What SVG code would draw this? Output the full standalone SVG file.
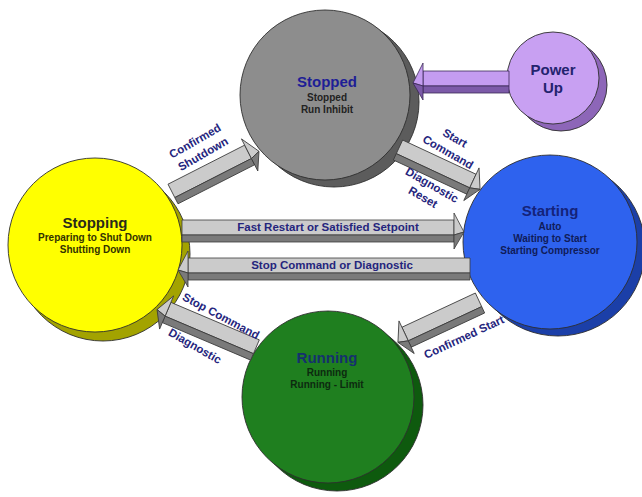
<svg xmlns="http://www.w3.org/2000/svg" width="642" height="497" viewBox="0 0 642 497">
<style>
.bg{fill:#ffffff}
.ol{stroke:#2e2e2e;stroke-width:0.9}
.lt{fill:#cbcbcb;stroke:#3a3a3a;stroke-width:0.8;stroke-linejoin:round}
.dk{fill:#7a7a7a;stroke:#3a3a3a;stroke-width:0.8;stroke-linejoin:round}
.plt{fill:#c49cf0;stroke:#3a2a55;stroke-width:0.8;stroke-linejoin:round}
.pdk{fill:#7c5aa8;stroke:#3a2a55;stroke-width:0.8;stroke-linejoin:round}
.title{font-family:"Liberation Sans",Arial,sans-serif;font-weight:bold;font-size:15px;text-anchor:middle}
.sub{font-family:"Liberation Sans",Arial,sans-serif;font-weight:bold;font-size:10px;text-anchor:middle}
.lbl{font-family:"Liberation Sans",Arial,sans-serif;font-weight:bold;font-size:11.5px;fill:#25257d;text-anchor:middle}
</style>
<rect class="bg" x="0" y="0" width="642" height="497"/>

<g id="node-stopped">
<circle class="ol" cx="334" cy="102" r="85" fill="#5c5c5c"/>
<circle class="ol" cx="325" cy="95" r="85" fill="#8d8d8d"/>
<text class="title" x="327" y="87" fill="#1e1e96">Stopped</text>
<text class="sub" x="327" y="101" fill="#222">Stopped</text>
<text class="sub" x="327" y="113" fill="#222">Run Inhibit</text>
</g>

<g id="node-powerup">
<circle class="ol" cx="561" cy="85" r="46" fill="#8d66b8"/>
<circle class="ol" cx="553" cy="78" r="46" fill="#c8a0f2"/>
<text class="title" x="553" y="75" fill="#23236e">Power</text>
<text class="title" x="553" y="93" fill="#23236e">Up</text>
</g>

<g id="node-stopping">
<circle class="ol" cx="103" cy="254" r="87" fill="#a3a300"/>
<circle class="ol" cx="95" cy="245" r="87" fill="#ffff00"/>
<text class="title" x="95" y="228" fill="#2a2a1a">Stopping</text>
<text class="sub" x="95" y="241" fill="#333300">Preparing to Shut Down</text>
<text class="sub" x="95" y="253" fill="#333300">Shutting Down</text>
</g>

<g id="node-starting">
<circle class="ol" cx="558" cy="249" r="87" fill="#1b3fa8"/>
<circle class="ol" cx="550" cy="242" r="87" fill="#2e62ee"/>
<text class="title" x="550" y="216" fill="#14237a">Starting</text>
<text class="sub" x="550" y="230" fill="#101c5a">Auto</text>
<text class="sub" x="550" y="242" fill="#101c5a">Waiting to Start</text>
<text class="sub" x="550" y="254" fill="#101c5a">Starting Compressor</text>
</g>

<g id="node-running">
<circle class="ol" cx="337" cy="405" r="86" fill="#0e5a0e"/>
<circle class="ol" cx="328" cy="397" r="86" fill="#1f7f1f"/>
<text class="title" x="327" y="363" fill="#15306e">Running</text>
<text class="sub" x="327" y="376" fill="#0d2a10">Running</text>
<text class="sub" x="327" y="388" fill="#0d2a10">Running - Limit</text>
</g>

<g id="connectors">
<!-- Power Up -> Stopped -->
<g transform="translate(509,82) scale(-1,1)">
<path class="plt" d="M0,-11 H86 V4 H0 Z"/>
<path class="pdk" d="M0,4 H86 V11 H0 Z"/>
<path class="plt" d="M86,-19 L96,1 L86,4 Z"/>
<path class="pdk" d="M86,4 L96,1 L86,18 Z"/>
</g>
<!-- Stopping -> Stopped : Confirmed Shutdown -->
<g transform="translate(173,194) rotate(-27)">
<path class="lt" d="M0,-11 H86 V4 H0 Z"/>
<path class="dk" d="M0,4 H86 V11 H0 Z"/>
<path class="lt" d="M86,-18 L96,1 L86,4 Z"/>
<path class="dk" d="M86,4 L96,1 L86,18 Z"/>
</g>
<!-- Stopped -> Starting : Start Command / Diagnostic Reset -->
<g transform="translate(398,150) rotate(25)">
<path class="lt" d="M0,-11 H81 V4 H0 Z"/>
<path class="dk" d="M0,4 H81 V11 H0 Z"/>
<path class="lt" d="M81,-18 L91,1 L81,4 Z"/>
<path class="dk" d="M81,4 L91,1 L81,18 Z"/>
</g>
<!-- Stopping -> Starting : Fast Restart -->
<g transform="translate(182,231)">
<path class="lt" d="M0,-11 H272 V4 H0 Z"/>
<path class="dk" d="M0,4 H272 V11 H0 Z"/>
<path class="lt" d="M272,-18 L282,1 L272,4 Z"/>
<path class="dk" d="M272,4 L282,1 L272,18 Z"/>
</g>
<!-- Starting -> Stopping : Stop Command or Diagnostic -->
<g transform="translate(470,269) scale(-1,1)">
<path class="lt" d="M0,-11 H282 V4 H0 Z"/>
<path class="dk" d="M0,4 H282 V11 H0 Z"/>
<path class="lt" d="M282,-18 L292,1 L282,4 Z"/>
<path class="dk" d="M282,4 L292,1 L282,18 Z"/>
</g>
<!-- Starting -> Running : Confirmed Start -->
<g transform="translate(480,303) rotate(-25) scale(-1,1)">
<path class="lt" d="M0,-11 H81 V4 H0 Z"/>
<path class="dk" d="M0,4 H81 V11 H0 Z"/>
<path class="lt" d="M81,-18 L91,1 L81,4 Z"/>
<path class="dk" d="M81,4 L91,1 L81,18 Z"/>
</g>
<!-- Running -> Stopping : Stop Command / Diagnostic -->
<g transform="translate(255,350) rotate(23) scale(-1,1)">
<path class="lt" d="M0,-11 H96 V4 H0 Z"/>
<path class="dk" d="M0,4 H96 V11 H0 Z"/>
<path class="lt" d="M96,-18 L106,1 L96,4 Z"/>
<path class="dk" d="M96,4 L106,1 L96,18 Z"/>
</g>

<text class="lbl" transform="translate(195,141) rotate(-30)" y="4">Confirmed</text>
<text class="lbl" transform="translate(203,154) rotate(-30)" y="4">Shutdown</text>
<text class="lbl" transform="translate(455,138) rotate(30)" y="4">Start</text>
<text class="lbl" transform="translate(448,152) rotate(30)" y="4">Command</text>
<text class="lbl" transform="translate(432,185) rotate(30)" y="4">Diagnostic</text>
<text class="lbl" transform="translate(423,197) rotate(30)" y="4">Reset</text>
<text class="lbl" x="328" y="231">Fast Restart or Satisfied Setpoint</text>
<text class="lbl" x="332" y="269">Stop Command or Diagnostic</text>
<text class="lbl" transform="translate(464,337) rotate(-25)" y="4">Confirmed Start</text>
<text class="lbl" transform="translate(221,316) rotate(28)" y="4">Stop Command</text>
<text class="lbl" transform="translate(195,346) rotate(30)" y="4">Diagnostic</text>
</g>
</svg>
